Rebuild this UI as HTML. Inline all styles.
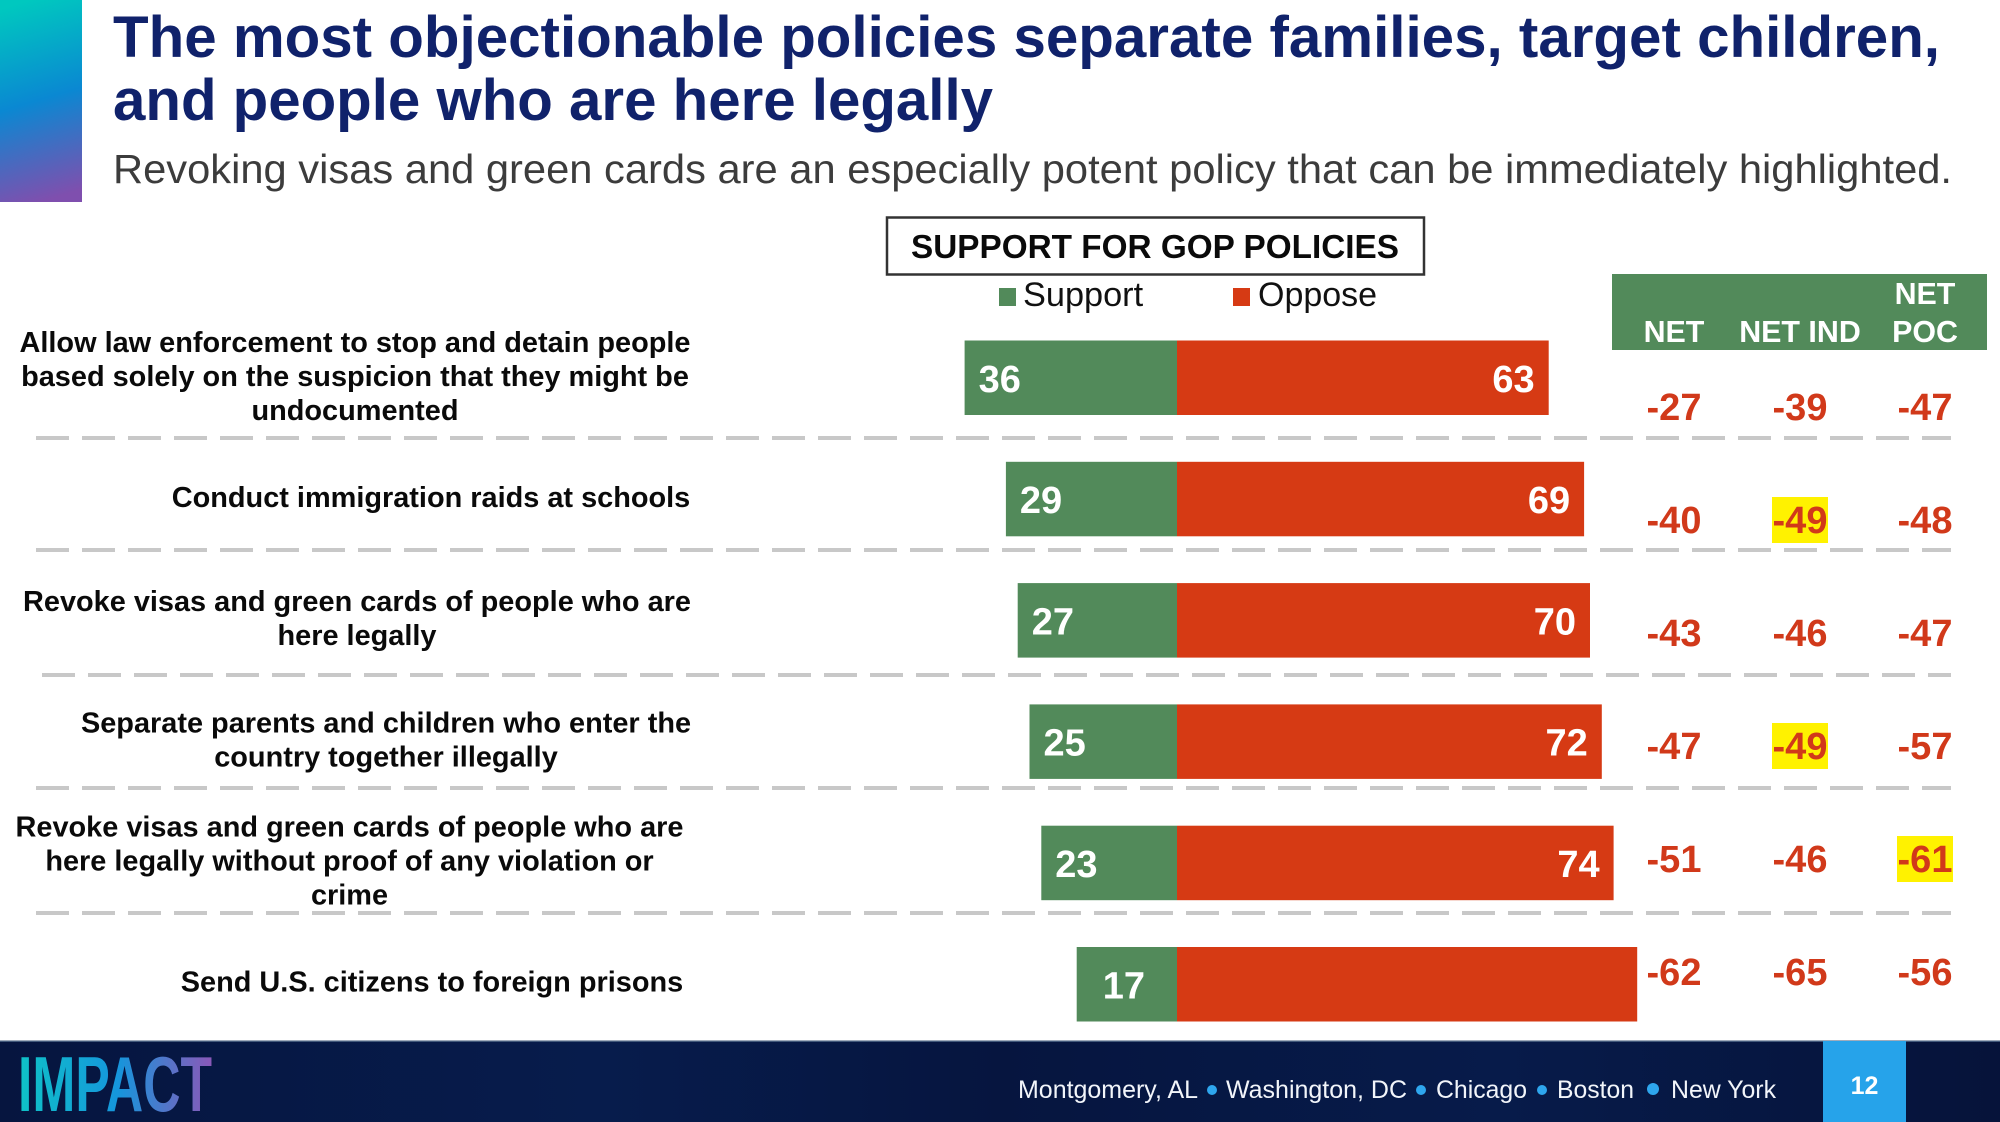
<!DOCTYPE html>
<html lang="en">
<head>
<meta charset="utf-8">
<title>Support for GOP policies</title>
<style>
html,body{margin:0;padding:0;background:#fff;width:2000px;height:1122px;overflow:hidden}
svg{display:block}
text{font-family:"Liberation Sans",Arial,sans-serif}
</style>
</head>
<body>
<svg id="chart" xmlns="http://www.w3.org/2000/svg" width="2000" height="1122" viewBox="0 0 2000 1122">
  <defs>
    <linearGradient id="sideGrad" x1="0.38" y1="0" x2="0.5" y2="1">
      <stop offset="0" stop-color="#00c8bf"/>
      <stop offset="0.5" stop-color="#0a88d2"/>
      <stop offset="1" stop-color="#7f4fae"/>
    </linearGradient>
    <linearGradient id="logoGrad" gradientUnits="userSpaceOnUse" x1="22" y1="0" x2="212" y2="0">
      <stop offset="0" stop-color="#0fc0c8"/>
      <stop offset="0.5" stop-color="#1596dc"/>
      <stop offset="1" stop-color="#8a58b8"/>
    </linearGradient>
    <linearGradient id="footGrad" x1="0" y1="0" x2="1" y2="0" spreadMethod="reflect">
      <stop offset="0" stop-color="#06153f"/>
      <stop offset="0.3" stop-color="#071c4c"/>
      <stop offset="0.5" stop-color="#06153f"/>
      <stop offset="0.75" stop-color="#071b4a"/>
      <stop offset="1" stop-color="#06133a"/>
    </linearGradient>
  </defs>

  <rect x="0" y="0" width="82" height="202" fill="url(#sideGrad)"/>
  <text x="113" y="57" font-size="58" font-weight="700" fill="#10226b" textLength="1827" lengthAdjust="spacingAndGlyphs">The most objectionable policies separate families, target children,</text>
  <text x="113" y="120" font-size="58" font-weight="700" fill="#10226b" textLength="880" lengthAdjust="spacingAndGlyphs">and people who are here legally</text>
  <text x="113" y="183" font-size="41" fill="#3c3c3c" textLength="1839" lengthAdjust="spacingAndGlyphs">Revoking visas and green cards are an especially potent policy that can be immediately highlighted.</text>

  <rect x="887" y="217.5" width="537" height="57" fill="#fff" stroke="#333" stroke-width="2.5"/>
  <text x="1155" y="258" font-size="33" font-weight="700" fill="#0a0a0a" text-anchor="middle" textLength="488" lengthAdjust="spacingAndGlyphs">SUPPORT FOR GOP POLICIES</text>

  <rect x="999" y="288" width="17" height="18" fill="#528a5a"/>
  <text x="1023" y="306" font-size="34.3" fill="#111">Support</text>
  <rect x="1233" y="288" width="17" height="18" fill="#d63a14"/>
  <text x="1258" y="306" font-size="34" fill="#111">Oppose</text>

  <rect x="1612" y="274" width="375" height="76" fill="#528a5a"/>
  <text x="1674" y="342" font-size="30.4" font-weight="700" fill="#fff" text-anchor="middle">NET</text>
  <text x="1800" y="342" font-size="30.4" font-weight="700" fill="#fff" text-anchor="middle">NET IND</text>
  <text x="1925" y="304" font-size="30.4" font-weight="700" fill="#fff" text-anchor="middle">NET</text>
  <text x="1925" y="342" font-size="30.4" font-weight="700" fill="#fff" text-anchor="middle">POC</text>

  <g id="dividers"></g>
  <g id="labels"></g>
  <g id="bars"></g>
  <g id="nets"></g>

  <g>
    <rect x="0" y="1041" width="2000" height="81" fill="url(#footGrad)"/>
    <rect x="0" y="1040.5" width="2000" height="1.5" fill="#41587a"/>
    <text x="18" y="1111" font-size="78" font-weight="700" fill="url(#logoGrad)" textLength="194" lengthAdjust="spacingAndGlyphs">IMPACT</text>
    <text x="1018" y="1098" font-size="25" fill="#f2f5fa" textLength="180" lengthAdjust="spacingAndGlyphs">Montgomery, AL</text>
    <circle cx="1212" cy="1090" r="5" fill="#2ea6ee"/>
    <text x="1226" y="1098" font-size="25" fill="#f2f5fa" textLength="181" lengthAdjust="spacingAndGlyphs">Washington, DC</text>
    <circle cx="1421" cy="1090" r="5" fill="#2ea6ee"/>
    <text x="1436" y="1098" font-size="25" fill="#f2f5fa" textLength="91" lengthAdjust="spacingAndGlyphs">Chicago</text>
    <circle cx="1542" cy="1090" r="5" fill="#2ea6ee"/>
    <text x="1557" y="1098" font-size="25" fill="#f2f5fa" textLength="77" lengthAdjust="spacingAndGlyphs">Boston</text>
    <circle cx="1653" cy="1089" r="6" fill="#2ea6ee"/>
    <text x="1671" y="1098" font-size="25" fill="#f2f5fa" textLength="105" lengthAdjust="spacingAndGlyphs">New York</text>
    <rect x="1823" y="1041" width="83" height="81" fill="#26a3ea"/>
    <text x="1864.5" y="1094" font-size="25" font-weight="700" fill="#fff" text-anchor="middle">12</text>
  </g>
</svg>

<script>
var categories = [
  ["Allow law enforcement to stop and detain people", "based solely on the suspicion that they might be", "undocumented"],
  ["Conduct immigration raids at schools"],
  ["Revoke visas and green cards of people who are", "here legally"],
  ["Separate parents and children who enter the", "country together illegally"],
  ["Revoke visas and green cards of people who are", "here legally without proof of any violation or", "crime"],
  ["Send U.S. citizens to foreign prisons"]
];
var supportValues = [36, 29, 27, 25, 23, 17];
var opposeValues = [63, 69, 70, 72, 74, 78];
var opposeLabelShown = [true, true, true, true, true, false];
var netValues = [-27, -40, -43, -47, -51, -62];
var netIndValues = [-39, -49, -46, -49, -46, -65];
var netPocValues = [-47, -48, -47, -57, -61, -56];
var netHighlighted = [false, false, false, false, false, false];
var netIndHighlighted = [false, true, false, true, false, false];
var netPocHighlighted = [false, false, false, false, true, false];

var SVGNS = 'http://www.w3.org/2000/svg';

function make(tag, parent, attrs, content) {
  var node = document.createElementNS(SVGNS, tag);
  for (var key in attrs) { node.setAttribute(key, attrs[key]); }
  if (content !== undefined) { node.textContent = content; }
  parent.appendChild(node);
  return node;
}

/* axis functions */
function xScale(value) { return value * 5.9; }
function zeroX() { return 1177; }
function barTop(row) { return 340.5 + row * 121.3; }
function barHeight() { return 74.5; }
function labelCenterY(row) { return 376.5 + row * 121.1; }
function netCenterY(row) { return 407 + row * 113; }

function render() {
  var dividerGroup = document.getElementById('dividers');
  var labelGroup = document.getElementById('labels');
  var barGroup = document.getElementById('bars');
  var netGroup = document.getElementById('nets');

  /* layout only: horizontal centre of each wrapped label and divider rows */
  var labelCenterX = [355, 431, 357, 386, 349.5, 432];
  var dividerY = [438, 550, 675, 788, 913];
  var dividerStart = [36, 36, 42, 36, 36];

  dividerY.forEach(function (y, d) {
    var el = make('line', dividerGroup, {
      x1: dividerStart[d], x2: 1951, y1: y, y2: y,
      stroke: '#c8c8c8', 'stroke-width': 4, 'stroke-dasharray': '33 13'
    });
    
    
  });

  categories.forEach(function (lines, row) {
    lines.forEach(function (line, k) {
      var y = labelCenterY(row) + (k - (lines.length - 1) / 2) * 34 + 9.5;
      var el = make('text', labelGroup, {
        x: labelCenterX[row], y: y, 'font-size': 28.9, 'font-weight': 700,
        fill: '#0a0a0a', 'text-anchor': 'middle'
      }, line);
      
      
    });

    var top = barTop(row);
    var h = barHeight();
    var sw = xScale(supportValues[row]);
    var ow = xScale(opposeValues[row]);

    var green = make('rect', barGroup, { x: zeroX() - sw, y: top, width: sw, height: h, fill: '#528a5a' });
    
    

    var red = make('rect', barGroup, { x: zeroX(), y: top, width: ow, height: h, fill: '#d63a14' });
    
    

    var narrow = sw < 110;
    var supportText = make('text', barGroup, {
      x: narrow ? zeroX() - sw / 2 - 3 : zeroX() - sw + 14,
      y: top + h / 2 + 14, 'font-size': 38, 'font-weight': 700, fill: '#fff',
      'text-anchor': narrow ? 'middle' : 'start'
    }, String(supportValues[row]));
    
    

    if (opposeLabelShown[row]) {
      var opposeText = make('text', barGroup, {
        x: zeroX() + ow - 14, y: top + h / 2 + 14, 'font-size': 38, 'font-weight': 700,
        fill: '#fff', 'text-anchor': 'end'
      }, String(opposeValues[row]));
      
      
    }

    var columns = [
      { x: 1674, values: netValues, marks: netHighlighted },
      { x: 1800, values: netIndValues, marks: netIndHighlighted },
      { x: 1925, values: netPocValues, marks: netPocHighlighted }
    ];
    columns.forEach(function (col) {
      var cy = netCenterY(row);
      if (col.marks[row]) {
        var hi = make('rect', netGroup, { x: col.x - 28, y: cy - 23, width: 56, height: 46, fill: '#fff200' });
        
        
      }
      var t = make('text', netGroup, {
        x: col.x, y: cy + 13, 'font-size': 38, 'font-weight': 700,
        fill: '#d1391a', 'text-anchor': 'middle'
      }, String(col.values[row]));
      
      
    });
  });
}
render();
</script>
</body>
</html>
